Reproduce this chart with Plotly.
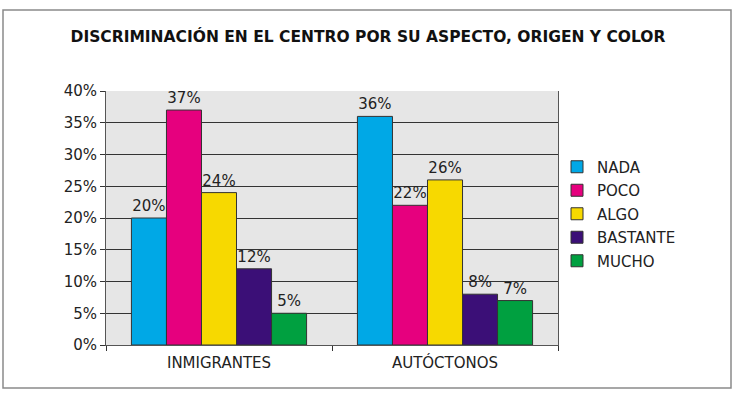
import plotly.graph_objects as go

categories = ["INMIGRANTES", "AUTÓCTONOS"]
series_names = ["NADA", "POCO", "ALGO", "BASTANTE", "MUCHO"]
nada = [0.20, 0.36]
poco = [0.37, 0.22]
algo = [0.24, 0.26]
bastante = [0.12, 0.08]
mucho = [0.05, 0.07]
colors = ["#00a8e6", "#e6007e", "#f7d900", "#3b0f77", "#00a040"]
title_text = "DISCRIMINACIÓN EN EL CENTRO POR SU ASPECTO, ORIGEN Y COLOR"

W, H = 736, 397
L, R, T, B = 106, 558, 91, 345

fig = go.Figure()
for i, (name, vals) in enumerate(zip(series_names, [nada, poco, algo, bastante, mucho])):
    fig.add_trace(go.Bar(
        x=categories, y=vals, name=name, legendgroup=name,
        marker=dict(color=colors[i], line=dict(color="#333333", width=1)),
        text=[f"{round(v*100)}%" for v in vals], textposition="outside",
        textfont=dict(family="DejaVu Sans", size=15, color="#222222"),
        cliponaxis=False,
    ))

def px_x(x):
    return (x - L) / (R - L)

def px_y(y):
    return (B - y) / (B - T)

fig.add_shape(type="rect", xref="paper", yref="paper",
              x0=px_x(3), x1=px_x(731), y0=px_y(388), y1=px_y(10),
              line=dict(color="#8a8a8a", width=1.5), layer="below")

fig.update_layout(
    width=W, height=H,
    margin=dict(l=L, r=W - R, t=T, b=H - B),
    paper_bgcolor="white", plot_bgcolor="#e6e6e6",
    barmode="group", bargap=0.225, bargroupgap=0,
    font=dict(family="DejaVu Sans", color="#222222"),
    title=dict(text=f"<b>{title_text}</b>", x=0.5, xref="container", xanchor="center",
               y=1 - 37 / H, yref="container", yanchor="middle",
               font=dict(family="DejaVu Sans", size=15.5, color="#111111")),
    legend=dict(x=px_x(557), xanchor="left", y=px_y(214), yanchor="middle",
                font=dict(family="DejaVu Sans", size=15, color="#222222"),
                tracegroupgap=1, bgcolor="rgba(0,0,0,0)"),
    showlegend=True,
)
fig.update_yaxes(range=[0, 0.40], dtick=0.05, tickformat=".0%",
                 showgrid=True, gridcolor="#333333", gridwidth=1,
                 ticks="outside", ticklen=5, tickcolor="#333333",
                 showline=True, linecolor="#555555", mirror=True,
                 tickfont=dict(size=15, color="#222222"), zeroline=False)
fig.update_xaxes(tickson="boundaries", ticks="outside", ticklen=5, tickcolor="#333333",
                 showline=True, linecolor="#555555", ticklabelstandoff=4,
                 tickfont=dict(size=15, color="#222222"))

fig.write_html("out.html")
